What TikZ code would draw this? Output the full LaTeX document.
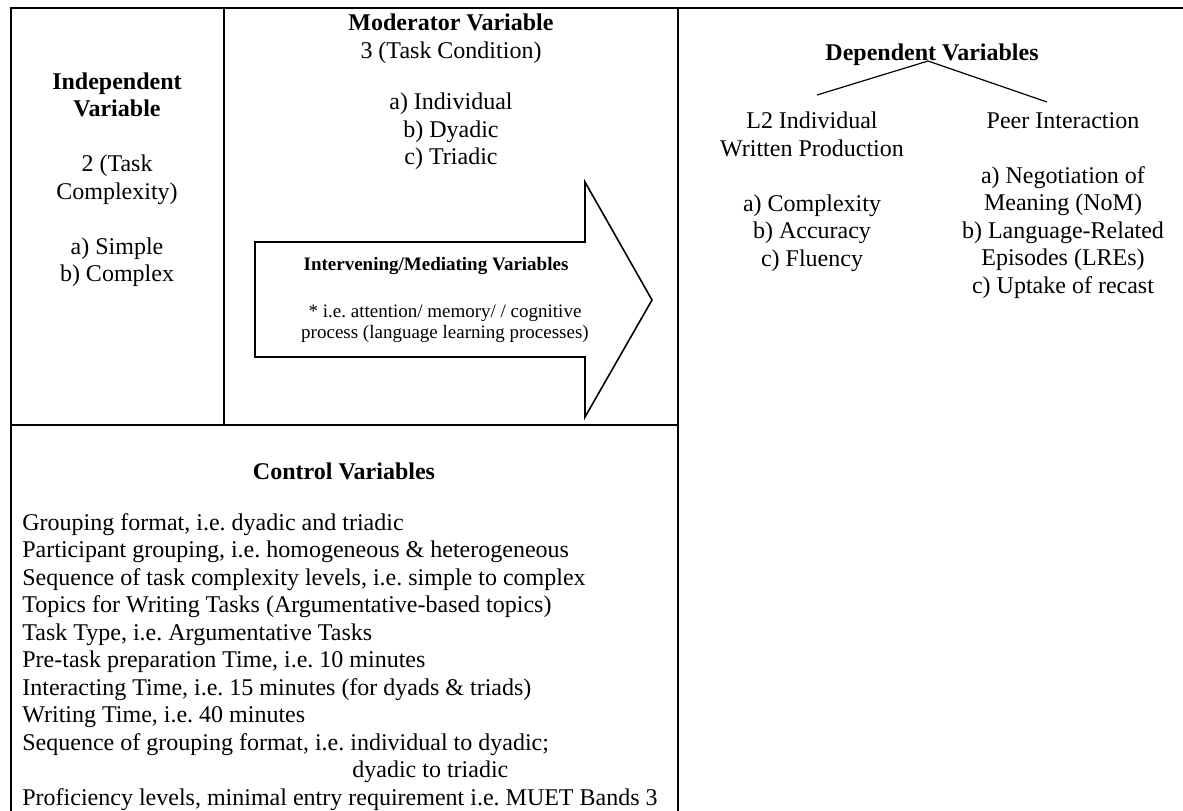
\documentclass[tikz,border=0pt]{standalone}
\usepackage{fontspec}
\setmainfont{Liberation Serif}
\usepackage{tikz}
\usetikzlibrary{positioning}
\usetikzlibrary{calc}
\frenchspacing
\tikzset{
  % Frame and connector styles
  rule/.style={draw, line width=1pt, line cap=rect},
  bigarrow/.style={draw, line width=0.8pt, line join=miter},
  branch/.style={draw, line width=0.6pt}
}

\begin{document}
\begin{tikzpicture}[x=0.5pt, y=-0.5pt]
    % Define styles
    \tikzstyle{cell} = [inner sep=0pt, align=center, font=\fontsize{12}{13.75}\selectfont]
    \tikzstyle{listing} = [inner sep=0pt, align=left, font=\fontsize{12}{13.75}\selectfont]
    \tikzstyle{small} = [inner sep=0pt, align=center, font=\fontsize{9.5}{10.5}\selectfont]
    \useasboundingbox (0,0) rectangle (1183,810);

    % Frame
    \draw [rule] (11,8) -- (1183,8);
    \draw [rule] (11,8) -- (11,810);
    \draw [rule] (224,8) -- (224,425);
    \draw [rule] (678,8) -- (678,810);
    \draw [rule] (11,425) -- (678,425);

    % Big arrow
    \draw [bigarrow] (255,242) -- (585,242) -- (585,182) -- (652,300)
        -- (585,417) -- (585,357) -- (255,357) -- cycle;

    % Place nodes
    \node [cell] (indep) at (117,179.5) {\textbf{Independent}\\\textbf{Variable}\\[13.75pt]
        2 (Task\\Complexity)\\[13.75pt]a) Simple\\b) Complex};
    \node [cell] (moderator) at (451,92) {\textbf{Moderator Variable}\\3 (Task Condition)\\[12pt]
        a) Individual\\b) Dyadic\\c) Triadic};
    \node [small, font=\fontsize{9.5}{10.5}\selectfont\bfseries] (mediate) at (436,266) {Intervening/Mediating Variables};
    \node [small] (process) at (445,324) {* i.e. attention/ memory/ / cognitive\\
        process (language learning processes)};
    \node [cell] (depend) at (932,55) {\textbf{Dependent Variables}};
    \node [cell] (written) at (812,192) {L2 Individual\\Written Production\\[13.75pt]
        a) Complexity\\b) Accuracy\\c) Fluency};
    \node [cell] (peer) at (1063,205.5) {Peer Interaction\\[13.75pt]a) Negotiation of\\Meaning (NoM)\\
        b) Language-Related\\Episodes (LREs)\\c) Uptake of recast};
    \node [cell] (control) at (344,471) {\textbf{Control Variables}};
    \node [listing, anchor=west] (controllist) at (22,662) {Grouping format, i.e. dyadic and triadic\\
        Participant grouping, i.e. homogeneous \& heterogeneous\\
        Sequence of task complexity levels, i.e. simple to complex\\
        Topics for Writing Tasks (Argumentative-based topics)\\
        Task Type, i.e. Argumentative Tasks\\
        Pre-task preparation Time, i.e. 10 minutes\\
        Interacting Time, i.e. 15 minutes (for dyads \& triads)\\
        Writing Time, i.e. 40 minutes\\
        Sequence of grouping format, i.e. individual to dyadic;\\
        \hspace*{165pt}dyadic to triadic\\
        Proficiency levels, minimal entry requirement i.e. MUET Bands 3};

    % Draw edges
    \coordinate (fork) at (928,61);
    \coordinate (writtentop) at (817,95);
    \coordinate (peertop) at (1047,102);
    \path [branch] (fork) -- (writtentop);
    \path [branch] (fork) -- (peertop);
\end{tikzpicture}
\end{document}
